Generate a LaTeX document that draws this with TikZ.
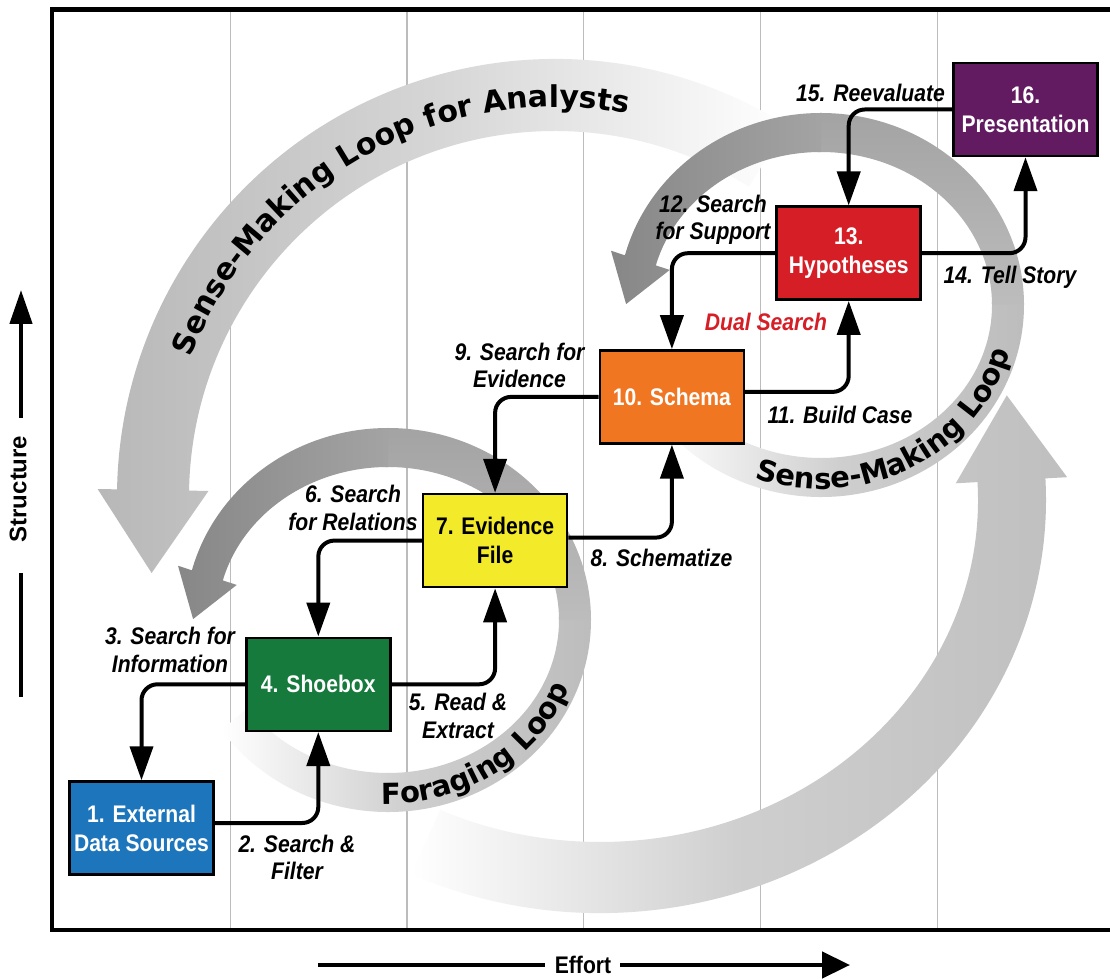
\documentclass[tikz,border=0pt]{standalone}
\usepackage{fontspec}
\setmainfont{Liberation Sans}
\newfontfamily\condfont[FakeStretch=0.88]{Liberation Sans}
\newfontfamily\loopfont{DejaVu Sans}
\usetikzlibrary{arrows.meta,calc,decorations.text}
\definecolor{cblue}{RGB}{29,117,188}
\definecolor{cgreen}{RGB}{22,122,60}
\definecolor{cyellow}{RGB}{243,234,42}
\definecolor{corange}{RGB}{240,118,34}
\definecolor{cred}{RGB}{214,30,38}
\definecolor{cpurple}{RGB}{98,27,96}
\definecolor{gridgray}{RGB}{188,188,188}

\newcommand{\mkloop}[2]{%
  \coordinate (#2O) at ($(#1)+(165:203pt and 192pt)$);
  \coordinate (#2I) at ($(#1)+(165:171pt and 153pt)$);
  \coordinate (#2M) at ($(#2O)!0.5!(#2I)$);
  \coordinate (#2Oc) at ($(#2O)!-0.45!(#2I)$);
  \coordinate (#2Ic) at ($(#2I)!-0.45!(#2O)$);
  \coordinate (#2T) at ($(#2M)!46pt!90:(#2O)$);
  \shade[left color=white, right color=black!26, middle color=black!19]
    ($(#1)+(215:203pt and 192pt)$) arc[start angle=215, end angle=361, x radius=203pt, y radius=192pt]
    -- ($(#1)+(361:171pt and 153pt)$) arc[start angle=361, end angle=215, x radius=171pt, y radius=153pt] -- cycle;
  \shade[bottom color=black!26, top color=black!36]
    ($(#1)+(0:203pt and 192pt)$) arc[start angle=0, end angle=91, x radius=203pt, y radius=192pt]
    -- ($(#1)+(91:171pt and 153pt)$) arc[start angle=91, end angle=0, x radius=171pt, y radius=153pt] -- cycle;
  \shade[left color=black!47, right color=black!36]
    ($(#1)+(90:203pt and 192pt)$) arc[start angle=90, end angle=165, x radius=203pt, y radius=192pt]
    -- (#2Oc) -- (#2T) -- (#2Ic) -- (#2I)
    arc[start angle=165, end angle=90, x radius=171pt, y radius=153pt] -- cycle;
}

\begin{document}
\begin{tikzpicture}[x=1pt,y=1pt,
  box/.style={draw=black, line width=2.5pt, minimum width=144pt, minimum height=93pt,
    inner sep=0pt, align=center, text=white,
    font=\condfont\bfseries\fontsize{24}{29}\selectfont},
  conn/.style={line width=4pt, rounded corners=16pt, -{Triangle[width=23pt,length=34pt]}},
  lab/.style={font=\condfont\bfseries\itshape\fontsize{24}{27.5}\selectfont, align=center, inner sep=0pt},
  gridline/.style={draw=gridgray, line width=1.6pt},
  looptext/.style={decorate, decoration={text along path, text color=black}}
]
\useasboundingbox (0,0) rectangle (1110,978);
\fill[white] (0,0) rectangle (1110,978);

% grid lines
\foreach \gx in {230.5,407,583.5,760.5,937.5} \draw[gridline] (\gx,48) -- (\gx,968.5);

% big lower arc (B)
\coordinate (CB) at (600,478);
\coordinate (BO) at ($(CB)+(3:446pt and 413pt)$);
\coordinate (BI) at ($(CB)+(3:378pt and 342pt)$);
\coordinate (BM) at ($(BO)!0.5!(BI)$);
\coordinate (BOc) at ($(BO)!-0.32!(BI)$);
\coordinate (BIc) at ($(BI)!-0.32!(BO)$);
\coordinate (BT) at ($(BM)!85pt!90:(BO)$);
\shade[left color=white, right color=black!25, middle color=black!19]
  ($(CB)+(245:446pt and 413pt)$) arc[start angle=245, end angle=363, x radius=446pt, y radius=413pt]
  -- (BOc) -- (BT) -- (BIc) -- (BI)
  arc[start angle=363, end angle=245, x radius=378pt, y radius=342pt] -- cycle;

% big upper arc (A)
\coordinate (CA) at (555,481);
\coordinate (AO) at ($(CA)+(179:438pt)$);
\coordinate (AI) at ($(CA)+(179:366pt)$);
\coordinate (AM) at ($(AO)!0.5!(AI)$);
\coordinate (AOc) at ($(AO)!-0.27!(AI)$);
\coordinate (AIc) at ($(AI)!-0.27!(AO)$);
\coordinate (AT) at ($(AM)!83pt!90:(AO)$);
\shade[left color=black!28, right color=white, middle color=black!16]
  ($(CA)+(58:438pt)$) arc[start angle=58, end angle=179, radius=438pt]
  -- (AOc) -- (AT) -- (AIc) -- (AI)
  arc[start angle=179, end angle=58, radius=366pt] -- cycle;

% foraging and sense-making loops
\coordinate (CF) at (388,358);
\coordinate (CS) at (821,673);
\mkloop{CF}{F}
\mkloop{CS}{S}

% loop texts
\path[looptext, decoration={text={|\loopfont\bfseries\fontsize{30}{30}\selectfont|Sense-Making Loop for Analysts}}]
  ($(CA)+(159:390pt)$) arc[start angle=159, end angle=60, radius=390pt];
\path[looptext, decoration={text={|\loopfont\bfseries\fontsize{29}{29}\selectfont|Foraging Loop}}]
  ($(CF)+(268:195pt and 184pt)$) arc[start angle=268, end angle=358, x radius=195pt, y radius=184pt];
\path[looptext, decoration={text={|\loopfont\bfseries\fontsize{29}{29}\selectfont|Sense-Making Loop}}]
  ($(CS)+(250:195pt and 184pt)$) arc[start angle=250, end angle=362, x radius=195pt, y radius=184pt];

% frame
\draw[line width=4.5pt] (1115,968.5) -- (52,968.5) -- (52,48) -- (1115,48);

% axes
\node[font=\bfseries\fontsize{24}{24}\selectfont, rotate=90, inner sep=0pt] (struct) at (18,489) {Structure};
\coordinate (sA) at (21,560); \coordinate (sB) at (21,688);
\coordinate (sC) at (21,405); \coordinate (sD) at (21,281);
\draw[line width=4.5pt, -{Triangle[width=22pt,length=34pt]}] (sA) -- (sB);
\draw[line width=4.5pt] (sC) -- (sD);

\node[font=\condfont\bfseries\fontsize{24}{24}\selectfont, inner sep=0pt] (effort) at (583,13) {Effort};
\coordinate (eA) at (318,13); \coordinate (eB) at (545,13);
\coordinate (eC) at (620,13); \coordinate (eD) at (850,13);
\draw[line width=4.5pt] (eA) -- (eB);
\draw[line width=4.5pt, -{Triangle[width=26pt,length=28pt]}] (eC) -- (eD);

% boxes
\node[box, fill=cblue] (ext) at (141.5,150) {1. External\\Data Sources};
\node[box, fill=cgreen] (shoe) at (318.3,293.7) {4. Shoebox};
\node[box, fill=cyellow, text=black] (evid) at (495.1,437.4) {7. Evidence\\File};
\node[box, fill=corange] (schema) at (671.9,581.1) {10. Schema};
\node[box, fill=cred] (hyp) at (848.7,724.8) {13.\\Hypotheses};
\node[box, fill=cpurple] (pres) at (1025.5,868.5) {16.\\Presentation};

% connectors
\draw[conn] (shoe.west) -| (ext.north);
\draw[conn] ([yshift=5pt]ext.east) -| (shoe.south);
\draw[conn] (evid.west) -| (shoe.north);
\draw[conn] (shoe.east) -| (evid.south);
\draw[conn] (schema.west) -| (evid.north);
\draw[conn] ([yshift=3pt]evid.east) -| (schema.south);
\draw[conn] (hyp.west) -| (schema.north);
\draw[conn] ([yshift=5pt]schema.east) -| (hyp.south);
\draw[conn] (pres.west) -| (hyp.north);
\draw[conn] (hyp.east) -| (pres.south);

% labels
\node[lab] (l3) at (170,328) {3. Search for\\Information};
\node[lab] (l2) at (297,120.5) {2. Search \&\\Filter};
\node[lab] (l6) at (353,470) {6. Search\\for Relations};
\node[lab] (l5) at (458,262) {5. Read \&\\Extract};
\node[lab] (l9) at (519.5,612.5) {9. Search for\\Evidence};
\node[lab] (l8) at (661.5,420) {8. Schematize};
\node[lab] (l12) at (713,758) {12. Search\\for Support};
\node[lab] (l11) at (840,563) {11. Build Case};
\node[lab] (l15) at (870.5,885) {15. Reevaluate};
\node[lab] (l14) at (1010,701) {14. Tell Story};
\node[lab, text=cred] (dual) at (766,656) {Dual Search};
\end{tikzpicture}
\end{document}
